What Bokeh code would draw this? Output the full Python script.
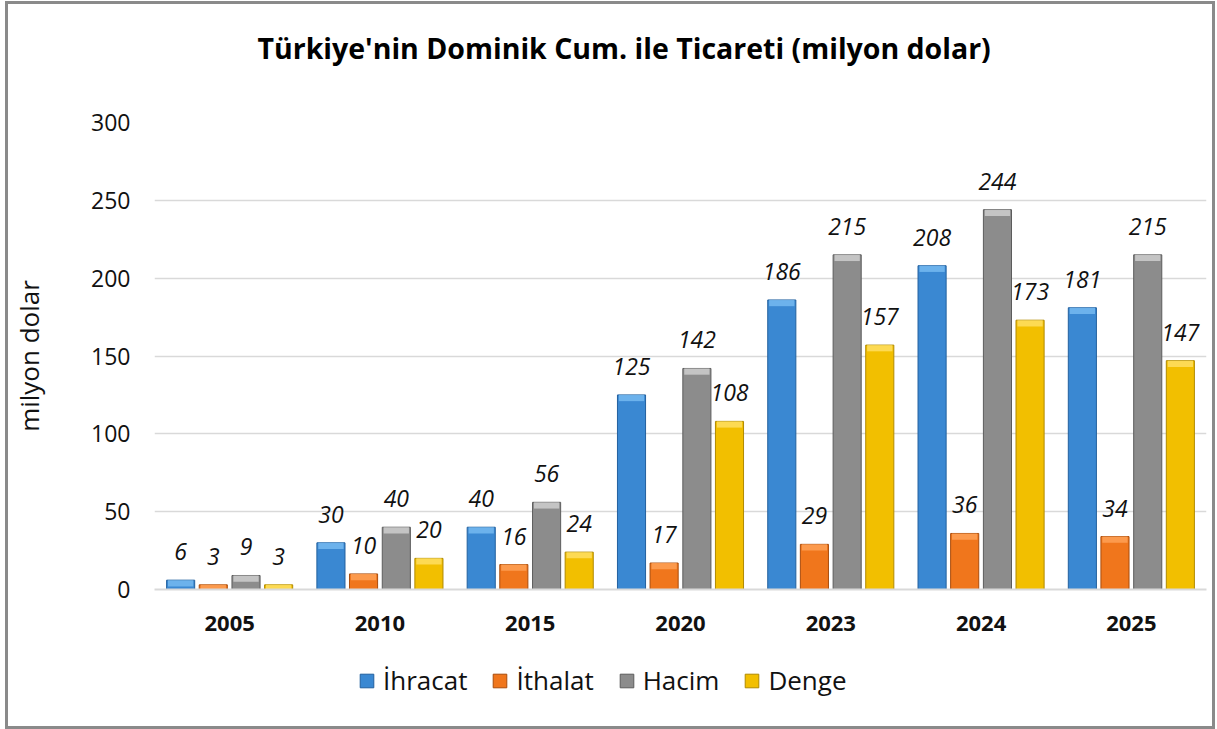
from bokeh.plotting import figure
from bokeh.models import (ColumnDataSource, FactorRange, Legend, LegendItem,
                          LabelSet, Title, FixedTicker, Column)
from bokeh.core.properties import value
from bokeh.transform import dodge
from bokeh.embed import file_html
from bokeh.resources import INLINE

years = ["2005", "2010", "2015", "2020", "2023", "2024", "2025"]
ihracat = [6, 30, 40, 125, 186, 208, 181]
ithalat = [3, 10, 16, 17, 29, 36, 34]
hacim = [9, 40, 56, 142, 215, 244, 215]
denge = [3, 20, 24, 108, 157, 173, 147]
series_names = ["İhracat", "İthalat", "Hacim", "Denge"]
series_values = [ihracat, ithalat, hacim, denge]
y_ticks = [0, 50, 100, 150, 200, 250, 300]
title_text = "Türkiye'nin Dominik Cum. ile Ticareti (milyon dolar)"
y_label = "milyon dolar"

fill_colors = ["#3A88D2", "#F0761C", "#8C8C8C", "#F2BF00"]
edge_colors = ["#22609E", "#A94C0C", "#5C5C5C", "#B08A00"]
cap_colors = ["#79BDF2", "#FFA45A", "#D2D2D2", "#FFE168"]

FONT = "Open Sans"
W, H1, H2 = 1204, 645, 77

p = figure(x_range=FactorRange(*years), y_range=(0, 300),
           width=W, height=H1, output_backend="svg", toolbar_location=None,
           min_border_left=146, min_border_right=6,
           min_border_top=118, min_border_bottom=60)
p.outline_line_color = None
p.background_fill_color = "white"
p.border_fill_color = "white"

offsets = [-0.326, -0.109, 0.109, 0.326]
bar_w = 0.187

for name, vals, off, fc, ec, cc in zip(series_names, series_values, offsets,
                                       fill_colors, edge_colors, cap_colors):
    cap_bottom = [v - min(v, 4) for v in vals]
    src = ColumnDataSource(dict(year=years, val=vals, cap_b=cap_bottom,
                                lbl=[str(v) for v in vals]))
    p.vbar(x=dodge("year", off, range=p.x_range), top="val", width=bar_w,
           source=src, fill_color=fc, line_color=ec, line_width=1)
    p.vbar(x=dodge("year", off, range=p.x_range), top="val", bottom="cap_b",
           width=bar_w * 0.9, source=src, fill_color=cc, line_color=None,
           fill_alpha=0.8)
    labels = LabelSet(x=dodge("year", off, range=p.x_range), y="val", text="lbl",
                      source=src, y_offset=20, text_align="center",
                      text_baseline="alphabetic", text_font=value(FONT),
                      text_font_size=value("23px"),
                      text_font_style=value("italic"),
                      text_color=value("#111111"))
    p.add_layout(labels)

# title (outer) + spacer (inner, between title and plot area)
p.title = Title(text=title_text, align="left", offset=103,
                text_font=FONT, text_font_size="28.5px", text_font_style="bold",
                text_color="#000000", standoff=10)
p.add_layout(Title(text=" ", text_font_size="10px", standoff=38), "above")

# axes
p.xgrid.grid_line_color = None
p.ygrid.grid_line_color = "#D9D9D9"
p.ygrid.grid_line_width = 1.5
p.yaxis.ticker = FixedTicker(ticks=y_ticks)
p.yaxis.axis_line_color = None
p.yaxis.major_tick_line_color = None
p.yaxis.minor_tick_line_color = None
p.yaxis.major_label_standoff = 18
p.yaxis.major_label_text_font = FONT
p.yaxis.major_label_text_font_size = "23px"
p.yaxis.major_label_text_color = "#111111"
p.yaxis.axis_label = y_label
p.yaxis.axis_label_text_font = FONT
p.yaxis.axis_label_text_font_size = "26px"
p.yaxis.axis_label_text_font_style = "normal"
p.yaxis.axis_label_text_color = "#111111"
p.yaxis.axis_label_standoff = 41

p.xaxis.axis_line_color = "#D9D9D9"
p.xaxis.axis_line_width = 2
p.xaxis.major_tick_line_color = None
p.xaxis.minor_tick_line_color = None
p.xaxis.major_label_standoff = 20
p.xaxis.major_label_text_font = FONT
p.xaxis.major_label_text_font_size = "22px"
p.xaxis.major_label_text_font_style = "bold"
p.xaxis.major_label_text_color = "#111111"

# legend strip (separate figure under the chart)
pl = figure(width=W, height=H2, x_range=(0, 1), y_range=(0, 1),
            output_backend="svg", toolbar_location=None,
            x_axis_type=None, y_axis_type=None,
            min_border_left=0, min_border_right=0,
            min_border_top=0, min_border_bottom=0)
pl.outline_line_color = None
pl.grid.grid_line_color = None
pl.border_fill_color = "white"
items = []
for name, fc, ec in zip(series_names, fill_colors, edge_colors):
    # hidden swatch source (outside the visible range); only used for the legend key
    swatch = ColumnDataSource(dict(x=[-5], top=[0]))
    r = pl.vbar(x="x", top="top", width=0.1, source=swatch,
                fill_color=fc, line_color=ec, line_width=1)
    items.append(LegendItem(label=name, renderers=[r]))
legend = Legend(items=items, orientation="horizontal", location=(204, 28),
                label_text_font=FONT, label_text_font_size="26px",
                label_text_color="#111111",
                glyph_width=17, glyph_height=17, label_standoff=8,
                spacing=24, padding=0, margin=0,
                border_line_color=None, background_fill_alpha=0)
pl.add_layout(legend)

layout = Column(p, pl, spacing=0)
layout.styles = {"border": "3px solid #8A8A8A", "margin": "1px 0 0 5px"}

open("out.html", "w").write(file_html(layout, INLINE))
